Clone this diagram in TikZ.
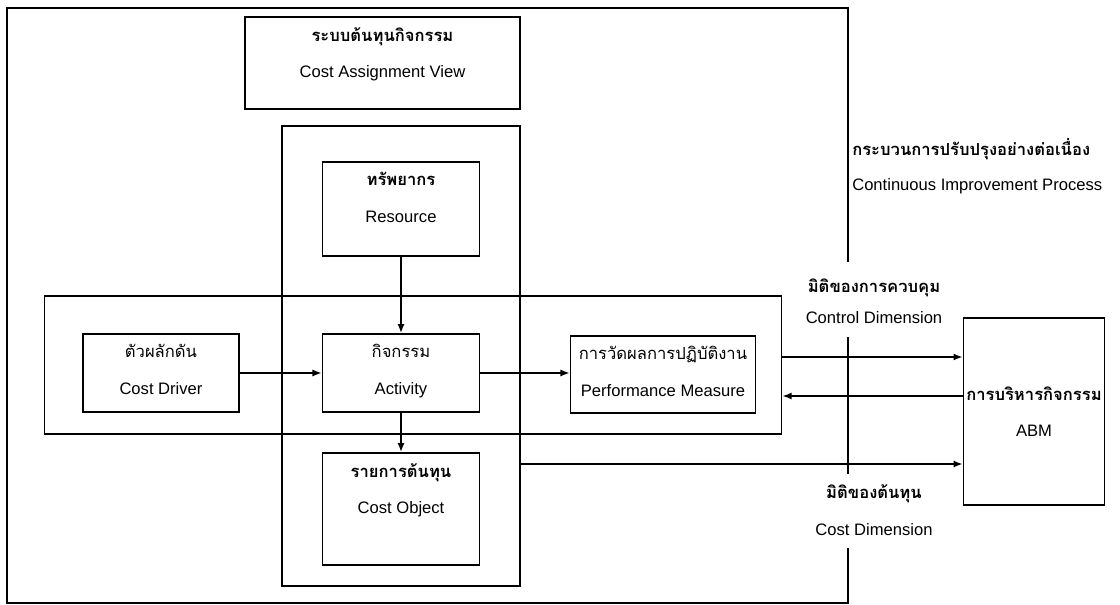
\documentclass[tikz,border=0pt]{standalone}
\usepackage{fontspec}
\setmainfont{Liberation Sans}
\newfontfamily\thaifont[Script=Thai]{Loma}
\usetikzlibrary{arrows.meta,positioning,calc}

\newcommand{\twoline}[2]{{\thaifont #1}\\[11.5pt] #2}

\begin{document}
\begin{tikzpicture}[x=0.025cm, y=-0.025cm, >={Latex[length=6.5pt,width=5pt]},
  font=\fontsize{11.8}{14.4}\selectfont,
  box/.style={draw, line width=1.2pt, inner sep=0pt},
  intext/.style={align=center, anchor=north, yshift=-4.5pt},
  arr/.style={->, line width=1.1pt}]
\useasboundingbox (0,0) rectangle (1120,605);
% outer frame, right side broken by the dimension labels
\draw[line width=1.2pt] (848,262) -- (848,8) -- (7,8) -- (7,603) -- (848,603) -- (848,548);
\draw[line width=1.2pt] (848,337) -- (848,474);
% cost assignment view and process boxes
\node[box, minimum width=6.875cm, minimum height=2.3cm,
  label={[intext]north:\twoline{\bfseries ระบบต้นทุนกิจกรรม}{Cost Assignment View}}] (cav) at (382.5,63) {};
\node[box, minimum width=5.95cm, minimum height=11.5cm] (proc) at (401,356) {};
\node[box, minimum width=18.425cm, minimum height=3.45cm] (ctrl) at (413,365) {};
\node[box, minimum width=3.925cm, minimum height=2.35cm,
  label={[intext]north:\twoline{\bfseries ทรัพยากร}{Resource}}] (res) at (401,209) {};
\node[box, minimum width=3.9cm, minimum height=1.95cm,
  label={[intext]north:\twoline{ตัวผลักดัน}{Cost Driver}}] (drv) at (161,373) {};
\node[box, minimum width=3.925cm, minimum height=1.95cm,
  label={[intext]north:\twoline{กิจกรรม}{Activity}}] (act) at (401,373) {};
\node[box, minimum width=4.625cm, minimum height=1.925cm,
  label={[intext]north:\twoline{การวัดผลการปฏิบัติงาน}{Performance Measure}}] (perf) at (663,374.5) {};
\node[box, minimum width=3.925cm, minimum height=2.8cm,
  label={[intext]north:\twoline{\bfseries รายการต้นทุน}{Cost Object}}] (obj) at (401,509) {};
\node[box, align=center, minimum width=3.525cm, minimum height=4.675cm] (abm) at (1034,411.5)
  {\twoline{\bfseries การบริหารกิจกรรม}{ABM}};
% labels on the right
\node[anchor=west, inner sep=0pt] (cipT) at (852,149) {\thaifont\bfseries กระบวนการปรับปรุงอย่างต่อเนื่อง};
\node[anchor=west, inner sep=0pt] (cipE) at (852,186) {Continuous Improvement Process};
\node (ctrlT) at (874,288) {\thaifont\bfseries มิติของการควบคุม};
\node (ctrlE) at (874,318) {Control Dimension};
\node (costT) at (874,494) {\thaifont\bfseries มิติของต้นทุน};
\node (costE) at (874,530) {Cost Dimension};
% flows
\draw[arr] (res) -- (act);
\draw[arr] (drv) -- (act);
\draw[arr] (act.east) -- (act.east -| perf.west);
\draw[arr] (act) -- (obj);
\coordinate (up) at (0,357);
\coordinate (dn) at (0,396);
\coordinate (lo) at (0,464);
\draw[arr] (ctrl.east |- up) -- (abm.west |- up);
\draw[arr] (abm.west |- dn) -- (ctrl.east |- dn);
\draw[arr] (proc.east |- lo) -- (abm.west |- lo);
\end{tikzpicture}
\end{document}
